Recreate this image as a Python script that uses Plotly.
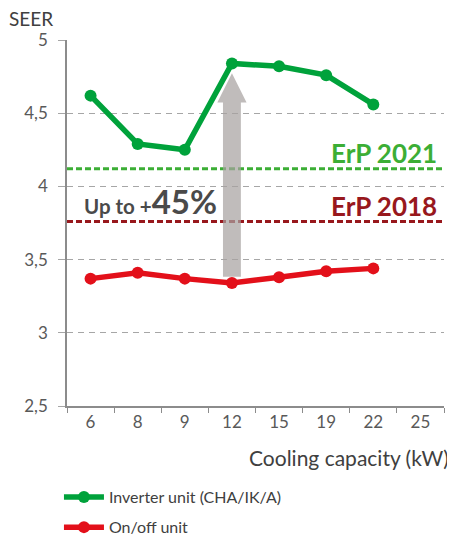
import plotly.graph_objects as go

categories = ["6", "8", "9", "12", "15", "19", "22", "25"]
inverter_seer = [4.62, 4.29, 4.25, 4.84, 4.82, 4.76, 4.56]
onoff_seer = [3.37, 3.41, 3.37, 3.34, 3.38, 3.42, 3.44]
erp_2021 = 4.12
erp_2018 = 3.76
y_ticks = [2.5, 3, 3.5, 4, 4.5, 5]

GREEN = "#00a23b"
RED = "#e3101a"
ERP21 = "#3cae35"
ERP18 = "#98181d"
FONT = "Lato"

fig = go.Figure()
fig.add_trace(go.Scatter(
    x=categories[:len(inverter_seer)], y=inverter_seer, mode="lines+markers",
    name="Inverter unit (CHA/IK/A)", line=dict(color=GREEN, width=5.5),
    marker=dict(size=12, color=GREEN), legend="legend", showlegend=True))
fig.add_trace(go.Scatter(
    x=categories[:len(onoff_seer)], y=onoff_seer, mode="lines+markers",
    name="On/off unit", line=dict(color=RED, width=5.5),
    marker=dict(size=12, color=RED), legend="legend2", showlegend=True))

# ErP threshold lines
for val, col in [(erp_2021, ERP21), (erp_2018, ERP18)]:
    fig.add_shape(type="line", xref="paper", x0=0, x1=1, yref="y", y0=val, y1=val,
                  line=dict(color=col, width=3, dash="6px,3px"), layer="between")

# Arrow at the 12 kW category, from on/off value up to inverter value
idx = categories.index("12")
y_bot = onoff_seer[idx] + 0.043
y_tip = inverter_seer[idx] - 0.067
head_h = 0.2
sw, hw = 0.19, 0.31
path = (f"M {idx - sw} {y_bot} L {idx + sw} {y_bot} L {idx + sw} {y_tip - head_h} "
        f"L {idx + hw} {y_tip - head_h} L {idx} {y_tip} L {idx - hw} {y_tip - head_h} "
        f"L {idx - sw} {y_tip - head_h} Z")
fig.add_shape(type="path", path=path, xref="x", yref="y",
              fillcolor="rgba(168,162,161,0.72)", line=dict(width=0), layer="between")

fig.add_annotation(text="<b>ErP 2021</b>", xref="paper", x=1, xshift=-5, xanchor="right",
                   yref="y", y=erp_2021, yanchor="bottom", yshift=-2, showarrow=False,
                   font=dict(family=FONT, size=26, color=ERP21))
fig.add_annotation(text="<b>ErP 2018</b>", xref="paper", x=1, xshift=-5, xanchor="right",
                   yref="y", y=erp_2018, yanchor="bottom", yshift=-2, showarrow=False,
                   font=dict(family=FONT, size=26, color=ERP18))
fig.add_annotation(text="<b>Up to +<span style='font-size:33px'>45%</span></b>",
                   xref="paper", x=0.04, xanchor="left", yref="y", y=erp_2018,
                   yanchor="bottom", yshift=-1, showarrow=False,
                   font=dict(family=FONT, size=20.5, color="#4a4a4a"))
fig.add_annotation(text="SEER", xref="paper", x=0, xshift=-60, xanchor="left",
                   yref="paper", y=1, yshift=22, yanchor="middle", showarrow=False,
                   font=dict(family=FONT, size=19, color="#404040"))
fig.add_annotation(text="Cooling capacity (kW)", xref="paper", x=1, xshift=7, xanchor="right",
                   yref="paper", y=0, yshift=-51, yanchor="middle", showarrow=False,
                   font=dict(family=FONT, size=21, color="#404040"))

fig.update_layout(
    width=447, height=527,
    margin=dict(l=59, r=11, t=32, b=129, autoexpand=False),
    plot_bgcolor="white", paper_bgcolor="white",
    separators=",.",
    showlegend=True,
    font=dict(family=FONT, color="#595959"),
    legend=dict(xref="container", x=0.114, xanchor="left", yref="container", y=0.104,
                yanchor="top", bgcolor="rgba(0,0,0,0)", visible=True,
                font=dict(family=FONT, size=16, color="#404040"), itemwidth=40),
    legend2=dict(xref="container", x=0.114, xanchor="left", yref="container", y=0.047,
                 yanchor="top", bgcolor="rgba(0,0,0,0)", visible=True,
                 font=dict(family=FONT, size=16, color="#404040"), itemwidth=40),
    xaxis=dict(type="category", categoryorder="array", categoryarray=categories,
               range=[-0.5, len(categories) - 0.5], showgrid=False, automargin=False,
               showline=True, linecolor="#8c8c8c", linewidth=1.5,
               ticks="outside", tickson="boundaries", ticklen=5, tickcolor="#8c8c8c",
               tickfont=dict(family=FONT, size=17, color="#595959")),
    yaxis=dict(range=[2.5, 5], tickvals=y_ticks, showgrid=True, automargin=False,
               gridcolor="#a6a6a6", griddash="6px,5px", gridwidth=1.3,
               showline=True, linecolor="#8c8c8c", linewidth=1.5,
               ticks="outside", ticklen=7, tickcolor="#a6a6a6",
               ticklabelstandoff=7, zeroline=False,
               tickfont=dict(family=FONT, size=17, color="#595959")),
)

fig.write_html("out.html")
